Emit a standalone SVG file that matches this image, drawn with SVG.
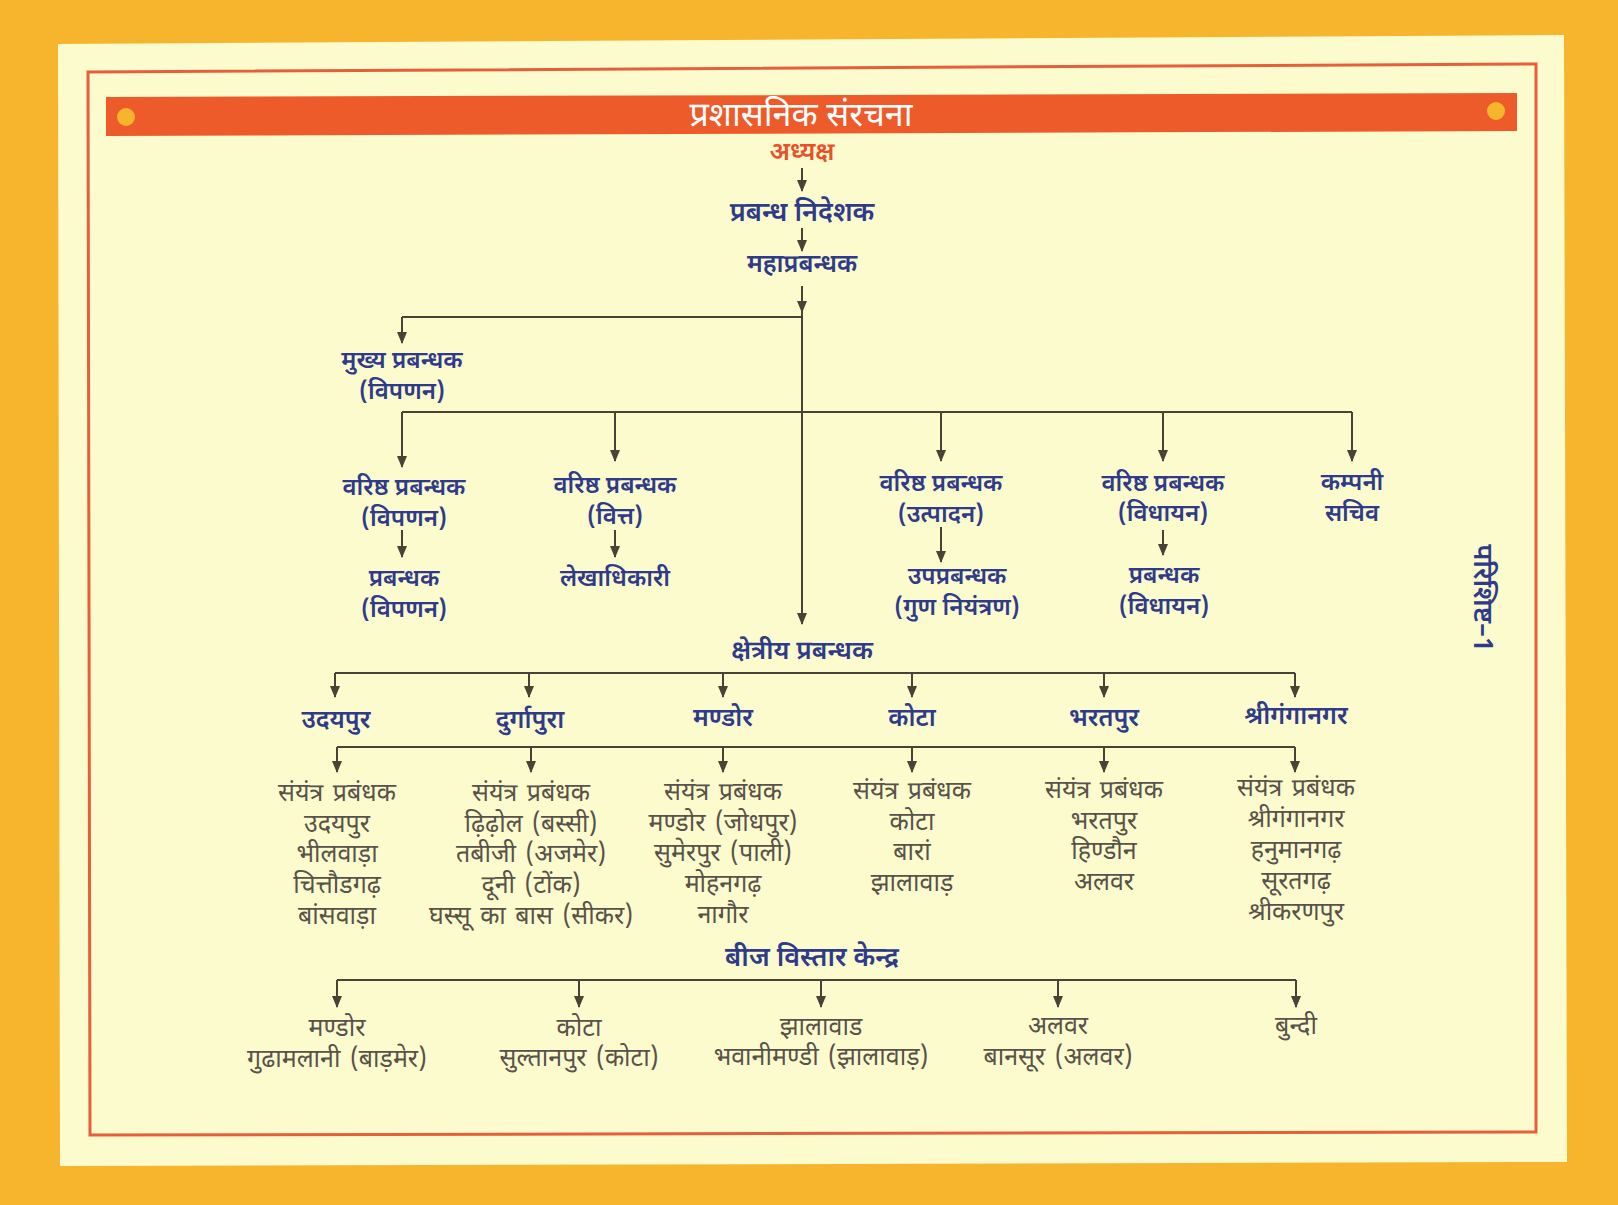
<svg xmlns="http://www.w3.org/2000/svg" width="1618" height="1205" viewBox="0 0 1618 1205">
<defs>
<style>
.h{font-family:"Noto Sans Devanagari","Noto Sans",sans-serif;font-weight:600;fill:#2f3b8a;font-size:24px;text-anchor:middle}
.n{font-family:"Noto Sans Devanagari","Noto Sans",sans-serif;fill:#58524b;font-size:25px;word-spacing:3px;text-anchor:middle}
.c{fill:none;stroke:#4a4236;stroke-width:2}
.a{fill:none;stroke:#4a4236;stroke-width:2;marker-end:url(#ah)}
</style>
<marker id="ah" markerUnits="userSpaceOnUse" markerWidth="12" markerHeight="12" viewBox="0 0 12 12" refX="11" refY="6" orient="auto">
<path d="M0,1 L12,6 L0,11 z" fill="#4a4236"/>
</marker>
</defs>
<rect x="0" y="0" width="1618" height="1205" fill="#f6b52c"/>
<polygon points="58,44 1564,35 1567,1162 60,1166" fill="#fcfbcd"/>
<polygon points="88,72 1536,64 1536,1132 90,1135" fill="none" stroke="#e5603a" stroke-width="3"/>
<g id="title">
<polygon points="106,97 1517,93 1517,131 106,136" fill="#ee5b2a"/>
<circle cx="126" cy="117" r="9" fill="#f7b52c"/>
<circle cx="1496" cy="111" r="9" fill="#f7b52c"/>
<text x="801" y="126" style="font-family:'Noto Sans Devanagari','Noto Sans',sans-serif;font-size:34px;fill:#ffffff;text-anchor:middle">प्रशासनिक संरचना</text>
</g>
<g id="connectors">
<path class="a" d="M802,168 V191"/>
<path class="a" d="M802,228 V251"/>
<path class="a" d="M802,286 V312"/>
<path class="a" d="M802,312 V624"/>
<path class="c" d="M803,317 H402"/>
<path class="a" d="M402,317 V343"/>
<path class="c" d="M402,412 H1352"/>
<path class="a" d="M402,412 V467"/>
<path class="a" d="M615,412 V461"/>
<path class="a" d="M941,412 V461"/>
<path class="a" d="M1163,412 V461"/>
<path class="a" d="M1352,412 V461"/>
<path class="a" d="M402,530 V557"/>
<path class="a" d="M615,530 V557"/>
<path class="a" d="M941,527 V562"/>
<path class="a" d="M1163,530 V555"/>
<path class="c" d="M335,673 H1295"/>
<path class="a" d="M335,673 V697"/>
<path class="a" d="M529,673 V697"/>
<path class="a" d="M723,673 V697"/>
<path class="a" d="M912,673 V697"/>
<path class="a" d="M1104,673 V697"/>
<path class="a" d="M1295,673 V697"/>
<path class="c" d="M337,747 H1295"/>
<path class="a" d="M337,747 V772"/>
<path class="a" d="M531,747 V772"/>
<path class="a" d="M723,747 V772"/>
<path class="a" d="M912,747 V772"/>
<path class="a" d="M1104,747 V772"/>
<path class="a" d="M1295,747 V772"/>
<path class="c" d="M337,980 H1296"/>
<path class="a" d="M337,980 V1007"/>
<path class="a" d="M579,980 V1007"/>
<path class="a" d="M821,980 V1007"/>
<path class="a" d="M1058,980 V1007"/>
<path class="a" d="M1296,980 V1007"/>
</g>
<g id="adhyaksh"><text x="802" y="160" class="h" style="fill:#e8502a;font-size:25px">अध्यक्ष</text></g>
<g id="prabandh-nideshak"><text x="802" y="221" class="h" style="font-size:27px">प्रबन्ध निदेशक</text></g>
<g id="mahaprabandhak"><text x="802" y="272" class="h" style="font-size:25px">महाप्रबन्धक</text></g>
<g id="mukhya"><text x="402" y="368" class="h">मुख्य प्रबन्धक</text><text x="402" y="399" class="h">(विपणन)</text></g>
<g id="varishth-vipanan"><text x="404" y="495" class="h">वरिष्ठ प्रबन्धक</text><text x="404" y="526" class="h">(विपणन)</text></g>
<g id="varishth-vitt"><text x="615" y="493" class="h">वरिष्ठ प्रबन्धक</text><text x="615" y="524" class="h">(वित्त)</text></g>
<g id="varishth-utpadan"><text x="941" y="491" class="h">वरिष्ठ प्रबन्धक</text><text x="941" y="522" class="h">(उत्पादन)</text></g>
<g id="varishth-vidhayan"><text x="1163" y="491" class="h">वरिष्ठ प्रबन्धक</text><text x="1163" y="521" class="h">(विधायन)</text></g>
<g id="company-sachiv"><text x="1352" y="490" class="h">कम्पनी</text><text x="1352" y="521" class="h">सचिव</text></g>
<g id="prabandhak-vipanan"><text x="404" y="586" class="h">प्रबन्धक</text><text x="404" y="617" class="h">(विपणन)</text></g>
<g id="lekhadhikari"><text x="615" y="586" class="h">लेखाधिकारी</text></g>
<g id="upaprabandhak"><text x="957" y="584" class="h">उपप्रबन्धक</text><text x="957" y="615" class="h">(गुण नियंत्रण)</text></g>
<g id="prabandhak-vidhayan"><text x="1164" y="583" class="h">प्रबन्धक</text><text x="1164" y="614" class="h">(विधायन)</text></g>
<g id="kshetriya"><text x="802" y="659" class="h" style="font-size:26px">क्षेत्रीय प्रबन्धक</text></g>
<g id="udaipur"><text x="336" y="728" class="h" style="font-size:25px">उदयपुर</text></g>
<g id="durgapura"><text x="530" y="728" class="h" style="font-size:25px">दुर्गापुरा</text></g>
<g id="mandor"><text x="723" y="726" class="h" style="font-size:25px">मण्डोर</text></g>
<g id="kota"><text x="912" y="726" class="h" style="font-size:25px">कोटा</text></g>
<g id="bharatpur"><text x="1104" y="726" class="h" style="font-size:25px">भरतपुर</text></g>
<g id="sriganganagar"><text x="1296" y="724" class="h" style="font-size:25px">श्रीगंगानगर</text></g>
<g id="list-udaipur">
<text x="337" y="801" class="n">संयंत्र प्रबंधक</text>
<text x="337" y="832" class="n">उदयपुर</text>
<text x="337" y="862" class="n">भीलवाड़ा</text>
<text x="337" y="893" class="n">चित्तौडगढ़</text>
<text x="337" y="924" class="n">बांसवाड़ा</text>
</g>
<g id="list-durgapura">
<text x="531" y="801" class="n">संयंत्र प्रबंधक</text>
<text x="531" y="832" class="n">ढ़िढ़ोल (बस्सी)</text>
<text x="531" y="862" class="n">तबीजी (अजमेर)</text>
<text x="531" y="893" class="n">दूनी (टोंक)</text>
<text x="531" y="924" class="n">घस्सू का बास (सीकर)</text>
</g>
<g id="list-mandor">
<text x="723" y="800" class="n">संयंत्र प्रबंधक</text>
<text x="723" y="831" class="n">मण्डोर (जोधपुर)</text>
<text x="723" y="861" class="n">सुमेरपुर (पाली)</text>
<text x="723" y="892" class="n">मोहनगढ़</text>
<text x="723" y="923" class="n">नागौर</text>
</g>
<g id="list-kota">
<text x="912" y="799" class="n">संयंत्र प्रबंधक</text>
<text x="912" y="830" class="n">कोटा</text>
<text x="912" y="860" class="n">बारां</text>
<text x="912" y="891" class="n">झालावाड़</text>
</g>
<g id="list-bharatpur">
<text x="1104" y="798" class="n">संयंत्र प्रबंधक</text>
<text x="1104" y="829" class="n">भरतपुर</text>
<text x="1104" y="859" class="n">हिण्डौन</text>
<text x="1104" y="890" class="n">अलवर</text>
</g>
<g id="list-sriganganagar">
<text x="1296" y="796" class="n">संयंत्र प्रबंधक</text>
<text x="1296" y="827" class="n">श्रीगंगानगर</text>
<text x="1296" y="858" class="n">हनुमानगढ़</text>
<text x="1296" y="889" class="n">सूरतगढ़</text>
<text x="1296" y="920" class="n">श्रीकरणपुर</text>
</g>
<g id="beej"><text x="812" y="966" class="h" style="font-size:27px">बीज विस्तार केन्द्र</text></g>
<g id="beej-mandor"><text x="337" y="1036" class="n">मण्डोर</text><text x="337" y="1067" class="n">गुढामलानी (बाड़मेर)</text></g>
<g id="beej-kota"><text x="579" y="1036" class="n">कोटा</text><text x="579" y="1066" class="n">सुल्तानपुर (कोटा)</text></g>
<g id="beej-jhalawar"><text x="821" y="1035" class="n">झालावाड</text><text x="821" y="1065" class="n">भवानीमण्डी (झालावाड़)</text></g>
<g id="beej-alwar"><text x="1058" y="1034" class="n">अलवर</text><text x="1058" y="1065" class="n">बानसूर (अलवर)</text></g>
<g id="beej-bundi"><text x="1296" y="1034" class="n">बुन्दी</text></g>
<g id="parishisht"><text x="0" y="0" transform="translate(1474,598) rotate(90)" class="h" style="font-size:27px">परिशिष्ट–1</text></g>
</svg>
